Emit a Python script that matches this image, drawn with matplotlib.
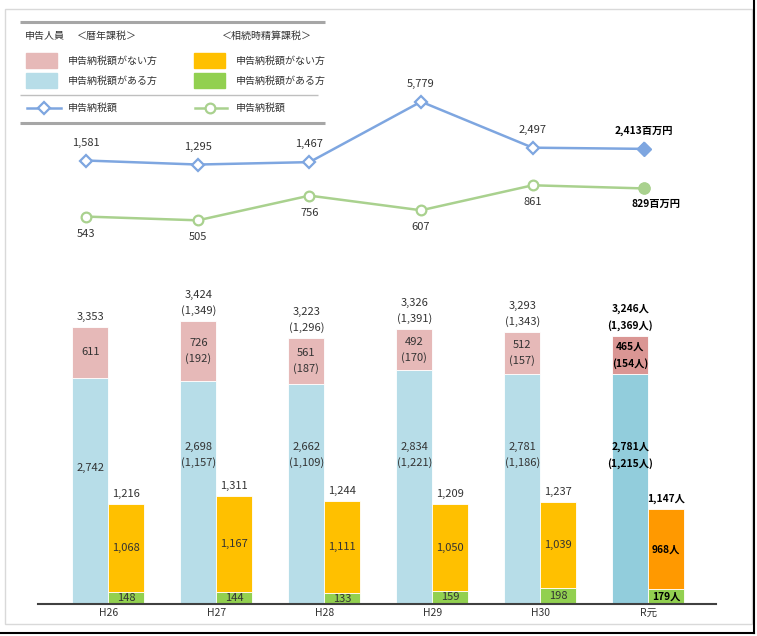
import matplotlib
matplotlib.use('Agg')
import matplotlib.pyplot as plt
from matplotlib.patches import Rectangle

plt.rcParams['font.family'] = ['Noto Sans CJK JP', 'DejaVu Sans']

# data
years = ['H26', 'H27', 'H28', 'H29', 'H30', 'R元']
reki_total = [3353, 3424, 3223, 3326, 3293, 3246]
reki_total_sub = [None, 1349, 1296, 1391, 1343, 1369]
reki_nashi = [611, 726, 561, 492, 512, 465]
reki_nashi_sub = [None, 192, 187, 170, 157, 154]
reki_ari = [2742, 2698, 2662, 2834, 2781, 2781]
reki_ari_sub = [None, 1157, 1109, 1221, 1186, 1215]
seisan_total = [1216, 1311, 1244, 1209, 1237, 1147]
seisan_nashi = [1068, 1167, 1111, 1050, 1039, 968]
seisan_ari = [148, 144, 133, 159, 198, 179]
zei_reki = [1581, 1295, 1467, 5779, 2497, 2413]
zei_seisan = [543, 505, 756, 607, 861, 829]

PINK, BLUE, ORANGE, GREEN = '#E6B9B8', '#B7DDE8', '#FFC000', '#92D050'
PINK_H, BLUE_H, ORANGE_H, GREEN_H = '#DA9694', '#92CDDC', '#FF9900', '#92D050'
LBLUE, LGREEN = '#7EA6E0', '#A9D18E'
TXT = '#333333'
FS = 8
FSB = 7.4

W, H = 757, 636
fig = plt.figure(figsize=(W / 100, H / 100), dpi=100)


def px_axes(x0, x1, ytop, ybot):
    return fig.add_axes([x0 / W, 1 - ybot / H, (x1 - x0) / W, (ybot - ytop) / H])


def fmt(v, bold=False):
    return f'{v:,}' + ('人' if bold else '')


def lab(v, sub, bold=False):
    s = fmt(v, bold)
    if sub is not None:
        s += '\n(' + fmt(sub, bold) + ')'
    return s


# ---- bars
ax = px_axes(38, 716, 250, 604)
ax.set_xlim(-0.651, 5.627)
ax.set_ylim(0, 4286)
bw = 0.333
n = len(years)
for i in range(n):
    last = i == n - 1
    cp, cb, co, cg = (PINK_H, BLUE_H, ORANGE_H, GREEN_H) if last else (PINK, BLUE, ORANGE, GREEN)
    xl, xr = i - bw / 2, i + bw / 2
    ax.bar(xl, reki_ari[i], bw, color=cb, edgecolor='white', linewidth=0.6)
    ax.bar(xl, reki_nashi[i], bw, bottom=reki_ari[i], color=cp, edgecolor='white', linewidth=0.6)
    ax.bar(xr, seisan_ari[i], bw, color=cg, edgecolor='white', linewidth=0.6)
    ax.bar(xr, seisan_nashi[i], bw, bottom=seisan_ari[i], color=co, edgecolor='white', linewidth=0.6)
    fw = 'bold' if last else 'normal'
    kw = dict(ha='center', fontsize=FSB if last else FS, color='black' if last else TXT,
              fontweight=fw, linespacing=1.7 if last else 1.6)
    # totals above
    ax.annotate(lab(reki_total[i], reki_total_sub[i], last), (xl, reki_total[i]),
                xytext=(0, 5), textcoords='offset pixels', va='bottom', **kw)
    ax.annotate(fmt(seisan_total[i], last), (xr, seisan_total[i]),
                xytext=(0, 5), textcoords='offset pixels', va='bottom', **kw)
    # segment labels
    ax.text(xl, reki_ari[i] + reki_nashi[i] / 2, lab(reki_nashi[i], reki_nashi_sub[i], last), va='center', **kw)
    yb = 1800 if reki_ari_sub[i] is not None else 1650
    ax.text(xl, yb, lab(reki_ari[i], reki_ari_sub[i], last), va='center', **kw)
    ax.text(xr, seisan_ari[i] + seisan_nashi[i] / 2, fmt(seisan_nashi[i], last), va='center', **kw)
    ax.text(xr, seisan_ari[i] / 2, fmt(seisan_ari[i], last), va='center', **kw)

ax.set_xticks(range(n))
ax.set_xticklabels(years, fontsize=7.5, color=TXT)
ax.tick_params(axis='x', length=0, pad=3)
ax.set_yticks([])
for s in ['top', 'right', 'left']:
    ax.spines[s].set_visible(False)
ax.spines['bottom'].set_color('#404040')
ax.spines['bottom'].set_linewidth(1.5)

# ---- lines (two scales)
la = px_axes(38, 716, 80, 240)
lg = px_axes(38, 716, 80, 240)
for a in (la, lg):
    a.set_xlim(-0.433, 5.643)
    a.axis('off')
    a.patch.set_alpha(0)
la.set_ylim(-4087, 7325)
lg.set_ylim(305, 1931)
xs = list(range(n))
la.plot(xs, zei_reki, color=LBLUE, lw=1.8, marker='D', ms=6, mfc='white', mec=LBLUE, mew=1.6, zorder=3)
la.plot(xs[-1], zei_reki[-1], marker='D', ms=7, color=LBLUE, zorder=4)
lg.plot(xs, zei_seisan, color=LGREEN, lw=1.8, marker='o', ms=7, mfc='white', mec=LGREEN, mew=1.6, zorder=3)
lg.plot(xs[-1], zei_seisan[-1], marker='o', ms=8, color=LGREEN, zorder=4)
for i in range(n):
    last = i == n - 1
    t1 = fmt(zei_reki[i]) + ('百万円' if last else '')
    t2 = fmt(zei_seisan[i]) + ('百万円' if last else '')
    kw = dict(ha='center', va='center', fontsize=FSB if last else FS, textcoords='offset pixels',
              color='black' if last else TXT, fontweight='bold' if last else 'normal')
    la.annotate(t1, (i, zei_reki[i]), xytext=(0, 18), **kw)
    lg.annotate(t2, (i, zei_seisan[i]), xytext=(12 if last else 0, -15 if last else -17), **kw)

# ---- legend and frame (pixel overlay)
ov = fig.add_axes([0, 0, 1, 1])
ov.set_xlim(0, W)
ov.set_ylim(H, 0)
ov.axis('off')
ov.patch.set_alpha(0)
ov.add_patch(Rectangle((5, 9), 747, 615, fill=False, ec='#D9D9D9', lw=1))
ov.plot([754, 754], [0, 633], color='black', lw=1.5)
ov.plot([0, 754], [633, 633], color='black', lw=1.5)
ov.plot([20, 325], [22, 22], color='#A6A6A6', lw=2.2, solid_capstyle='butt')
ov.plot([20, 318], [95, 95], color='#BFBFBF', lw=1, solid_capstyle='butt')
ov.plot([20, 325], [123, 123], color='#A6A6A6', lw=2.2, solid_capstyle='butt')
tk = dict(fontsize=7.2, color=TXT, va='center')
ov.text(25, 36, '申告人員', **tk)
ov.text(77, 36, '＜暦年課税＞', **tk)
ov.text(222, 36, '＜相続時精算課税＞', **tk)
for (x, y, c, t) in [(26, 53, PINK, '申告納税額がない方'), (26, 73, BLUE, '申告納税額がある方'),
                     (194, 53, ORANGE, '申告納税額がない方'), (194, 73, GREEN, '申告納税額がある方')]:
    ov.add_patch(Rectangle((x, y), 31, 15, color=c))
    ov.text(x + 42, y + 7.5, t, **tk)
ov.plot([27, 61], [108, 108], color=LBLUE, lw=1.8)
ov.plot([44], [108], marker='D', ms=6, mfc='white', mec=LBLUE, mew=1.6)
ov.text(68, 108, '申告納税額', **tk)
ov.plot([195, 227], [108, 108], color=LGREEN, lw=1.8)
ov.plot([210], [108], marker='o', ms=7, mfc='white', mec=LGREEN, mew=1.6)
ov.text(236, 108, '申告納税額', **tk)

fig.savefig('out.png', dpi=100)
